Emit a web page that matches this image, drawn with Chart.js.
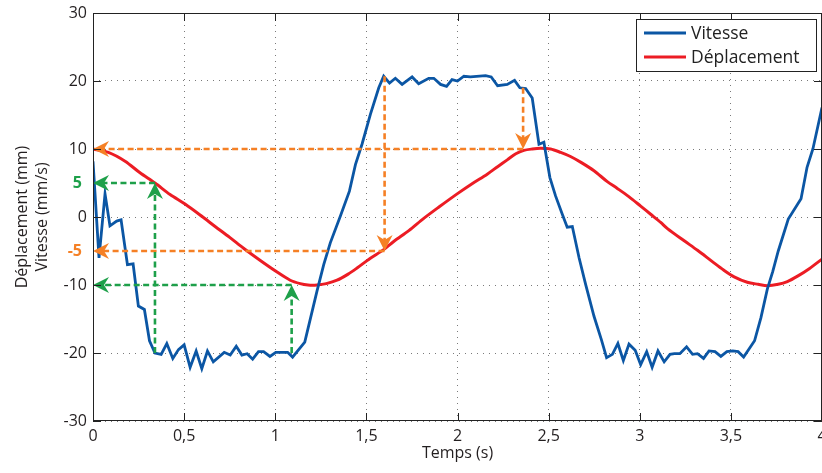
<!DOCTYPE html>
<html>
<head>
<meta charset="utf-8">
<script src="https://cdn.jsdelivr.net/npm/chart.js@4.4.1/dist/chart.umd.min.js"></script>
<style>
  html, body { margin: 0; padding: 0; background: #fff; }
</style>
</head>
<body>
<canvas id="c" width="822" height="473"></canvas>
<script>
// Vitesse (mm/s) against time (s)
const tVitesse = [0, 0.033, 0.066, 0.093, 0.13, 0.154, 0.189, 0.22, 0.249, 0.282, 0.31, 0.34, 0.374, 0.405, 0.438, 0.469, 0.5, 0.533, 0.566, 0.597, 0.628, 0.66, 0.72, 0.753, 0.786, 0.817, 0.846, 0.876, 0.908, 0.936, 0.971, 1.003, 1.068, 1.095, 1.162, 1.229, 1.266, 1.302, 1.357, 1.407, 1.44, 1.476, 1.522, 1.568, 1.595, 1.627, 1.659, 1.696, 1.751, 1.787, 1.842, 1.87, 1.907, 1.94, 1.97, 2.0, 2.035, 2.071, 2.154, 2.185, 2.22, 2.273, 2.313, 2.342, 2.374, 2.41, 2.447, 2.474, 2.507, 2.538, 2.575, 2.602, 2.63, 2.667, 2.703, 2.749, 2.789, 2.818, 2.85, 2.88, 2.91, 2.941, 2.975, 3.005, 3.038, 3.068, 3.1, 3.134, 3.166, 3.19, 3.22, 3.257, 3.29, 3.317, 3.35, 3.38, 3.413, 3.445, 3.478, 3.51, 3.54, 3.57, 3.63, 3.665, 3.7, 3.73, 3.76, 3.815, 3.885, 3.918, 3.95, 4.0]
const vVitesse = [8.2, -6.0, 3.4, -1.3, -0.6, -0.4, -7.0, -6.9, -13.1, -13.6, -18.2, -20.0, -20.2, -18.6, -20.8, -19.5, -18.8, -22.1, -19.7, -22.3, -19.7, -21.3, -19.9, -20.3, -19.0, -20.3, -20.1, -20.9, -19.8, -19.8, -20.5, -19.9, -19.9, -20.6, -18.4, -10.9, -7.0, -3.8, 0.1, 3.8, 7.7, 10.7, 15.1, 19.0, 20.7, 19.7, 20.4, 19.5, 20.6, 19.6, 20.4, 20.4, 19.5, 19.2, 20.2, 20.0, 20.7, 20.6, 20.8, 20.6, 19.3, 19.5, 20.1, 19.0, 18.9, 17.5, 10.7, 11.0, 5.8, 3.1, 0.4, -1.5, -1.4, -6.0, -9.9, -14.6, -18.0, -20.7, -20.2, -18.6, -21.1, -18.7, -19.6, -21.7, -19.8, -22.1, -19.7, -21.3, -20.2, -20.1, -20.1, -19.1, -20.2, -20.1, -20.8, -19.7, -19.8, -20.5, -19.8, -19.7, -19.8, -20.6, -18.2, -14.8, -10.6, -8.0, -5.0, -0.3, 2.7, 7.3, 10.0, 16.1]

// Déplacement (mm) against time (s)
const tDeplacement = [0, 0.084, 0.176, 0.258, 0.34, 0.423, 0.505, 0.597, 0.67, 0.75, 0.826, 0.918, 1.01, 1.082, 1.137, 1.18, 1.229, 1.28, 1.339, 1.4, 1.449, 1.52, 1.595, 1.65, 1.733, 1.815, 1.9, 1.998, 2.08, 2.163, 2.22, 2.273, 2.32, 2.364, 2.41, 2.456, 2.511, 2.566, 2.62, 2.68, 2.749, 2.822, 2.877, 2.94, 3.005, 3.06, 3.115, 3.152, 3.244, 3.317, 3.4, 3.46, 3.518, 3.59, 3.65, 3.7, 3.76, 3.81, 3.866, 3.93, 4.0]
const vDeplacement = [10.0, 9.5, 8.2, 6.5, 5.0, 3.3, 1.9, 0.1, -1.4, -3.0, -4.6, -6.4, -8.1, -9.3, -9.8, -10.0, -10.0, -9.8, -9.3, -8.4, -7.5, -6.1, -4.8, -3.6, -2.0, -0.2, 1.5, 3.4, 4.9, 6.3, 7.4, 8.4, 9.3, 9.8, 10.0, 10.1, 10.0, 9.5, 8.9, 8.0, 6.8, 5.2, 4.2, 3.0, 1.6, 0.4, -0.8, -1.7, -3.5, -4.9, -6.6, -7.8, -8.8, -9.6, -9.9, -10.1, -9.9, -9.5, -8.7, -7.6, -6.2]

const xTicks = [0, 0.5, 1, 1.5, 2, 2.5, 3, 3.5, 4]
const yTicks = [-30, -20, -10, 0, 10, 20, 30]

// reading arrows: [fromT, fromV, toT, toV], head at the "to" end
const arrowsOrange = [[2.36, 10, 0, 10], [1.6, 20.7, 1.6, -5], [1.6, -5, 0, -5], [2.36, 19, 2.36, 10]]
const arrowsGreen = [[0.34, -20, 0.34, 5], [0.34, 5, 0, 5], [1.09, -20, 1.09, -10], [1.09, -10, 0, -10]]
const readLabels = [["5", 5, "green"], ["-5", -5, "orange"]]

const BLUE = "#0b56a4"
const RED = "#ec1c24"
const ORANGE = "#f58025"
const GREEN = "#1ea04a"
const FONT = "'Open Sans', 'Noto Sans', sans-serif"

function pairs(ts, vs) { return ts.map((t, i) => ({ x: t, y: vs[i] })) }

function drawArrow(ctx, x0, y0, x1, y1, color) {
  const ang = Math.atan2(y1 - y0, x1 - x0)
  const L = 16, W = 8, N = 5
  ctx.save()
  ctx.strokeStyle = color
  ctx.lineWidth = 2.6
  ctx.setLineDash([6, 3.5])
  ctx.beginPath()
  ctx.moveTo(x0, y0)
  ctx.lineTo(x1 - Math.cos(ang) * (L - N), y1 - Math.sin(ang) * (L - N))
  ctx.stroke()
  ctx.setLineDash([])
  ctx.fillStyle = color
  ctx.translate(x1, y1)
  ctx.rotate(ang)
  ctx.beginPath()
  ctx.moveTo(0, 0)
  ctx.lineTo(-L, -W)
  ctx.lineTo(-L + N, 0)
  ctx.lineTo(-L, W)
  ctx.closePath()
  ctx.fill()
  ctx.restore()
}

const decor = {
  id: "decor",
  afterDatasetsDraw(chart) {
    const { ctx, chartArea: { left, top, right, bottom }, scales: { x, y } } = chart
    // arrows
    arrowsOrange.forEach(a => drawArrow(ctx, x.getPixelForValue(a[0]), y.getPixelForValue(a[1]), x.getPixelForValue(a[2]), y.getPixelForValue(a[3]), ORANGE))
    arrowsGreen.forEach(a => drawArrow(ctx, x.getPixelForValue(a[0]), y.getPixelForValue(a[1]), x.getPixelForValue(a[2]), y.getPixelForValue(a[3]), GREEN))

    ctx.save()
    // frame + inward ticks
    ctx.strokeStyle = "#222"
    ctx.lineWidth = 1
    ctx.strokeRect(left + 0.5, top + 0.5, right - left - 1, bottom - top - 1)
    ctx.beginPath()
    xTicks.forEach(v => {
      const px = Math.round(x.getPixelForValue(v)) + 0.5
      ctx.moveTo(px, bottom); ctx.lineTo(px, bottom - 8)
      ctx.moveTo(px, top); ctx.lineTo(px, top + 8)
    })
    yTicks.forEach(v => {
      const py = Math.round(y.getPixelForValue(v)) + 0.5
      ctx.moveTo(left, py); ctx.lineTo(left + 8, py)
      ctx.moveTo(right, py); ctx.lineTo(right - 8, py)
    })
    ctx.stroke()

    // coloured reading values
    ctx.font = "bold 16px " + FONT
    ctx.textAlign = "right"
    ctx.textBaseline = "middle"
    readLabels.forEach(l => {
      ctx.fillStyle = l[2] == "green" ? GREEN : ORANGE
      ctx.fillText(l[0], left - 11, y.getPixelForValue(l[1]))
    })

    // legend box
    const bx = 636, by = 19, bw = 180, bh = 52
    ctx.fillStyle = "#fff"
    ctx.fillRect(bx, by, bw, bh)
    ctx.strokeStyle = "#222"
    ctx.strokeRect(bx + 0.5, by + 0.5, bw, bh)
    ctx.font = "17.5px " + FONT
    ctx.textAlign = "left"
    chart.data.datasets.forEach((ds, i) => {
      const ly = 33 + i * 24
      ctx.strokeStyle = ds.borderColor
      ctx.lineWidth = 3
      ctx.beginPath(); ctx.moveTo(644, ly); ctx.lineTo(686, ly); ctx.stroke()
      ctx.fillStyle = "#222"
      ctx.fillText(ds.label, 691, ly + 1)
    })
    ctx.restore()
  }
}

const config = {
  type: "line",
  data: {
    datasets: [
      { label: "Vitesse", data: pairs(tVitesse, vVitesse), borderColor: BLUE, borderWidth: 2.8, pointRadius: 0, tension: 0 },
      { label: "Déplacement", data: pairs(tDeplacement, vDeplacement), borderColor: RED, borderWidth: 3, pointRadius: 0, tension: 0.3 },
    ]
  },
  options: {
    responsive: false,
    animation: false,
    devicePixelRatio: 1,
    layout: { padding: { top: 13, right: 0, bottom: 0, left: 0 } },
    plugins: { legend: { display: false }, tooltip: { enabled: false } },
    scales: {
      x: {
        type: "linear", min: 0, max: 4,
        afterBuildTicks: s => { s.ticks = xTicks.map(v => ({ value: v })) },
        afterFit: s => { s.height = 52; s.paddingLeft = 0; s.paddingRight = 0 },
        ticks: { color: "#231f20", padding: 6, maxRotation: 0, font: { family: FONT, size: 16 }, callback: v => String(v).replace(".", ",") },
        grid: { drawTicks: false, color: "#7a7a7a", lineWidth: 1 },
        border: { display: false, dash: [1, 5] },
        title: { display: true, text: "Temps (s)", color: "#231f20", font: { family: FONT, size: 16, lineHeight: 1.25 }, padding: { top: 0, bottom: 10 } }
      },
      y: {
        min: -30, max: 30,
        afterBuildTicks: s => { s.ticks = yTicks.map(v => ({ value: v })) },
        afterFit: s => { s.width = 93; s.paddingTop = 0; s.paddingBottom = 0 },
        ticks: { color: "#231f20", padding: 6, font: { family: FONT, size: 16 } },
        grid: { drawTicks: false, color: "#7a7a7a", lineWidth: 1 },
        border: { display: false, dash: [1, 5] },
        title: { display: true, text: ["Déplacement (mm)", "Vitesse (mm/s)"], color: "#231f20", font: { family: FONT, size: 16, lineHeight: 1.25 }, padding: { top: 12, bottom: 0 } }
      }
    }
  },
  plugins: [decor]
}

new Chart(document.getElementById("c"), config)
</script>
</body>
</html>
